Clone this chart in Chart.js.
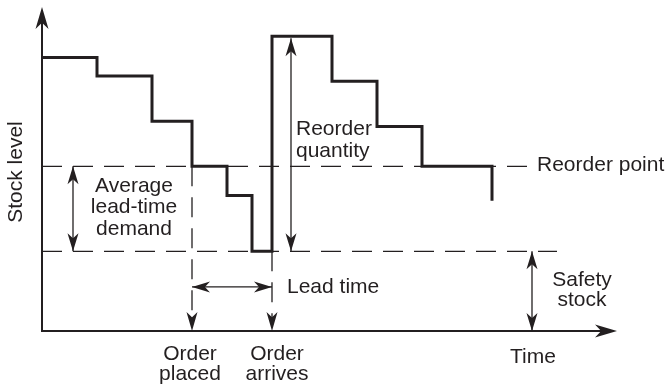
<!DOCTYPE html>
<html>
<head>
<meta charset="utf-8">
<script src="https://cdn.jsdelivr.net/npm/chart.js@4"></script>
<style>
  html, body { margin: 0; padding: 0; background: #fff; }
  #wrap { width: 668px; height: 387px; }
</style>
</head>
<body>
<div id="wrap"><canvas id="stock-chart"></canvas></div>
<script>
// stock level over time (schematic units)
const timeX = [0, 11, 22, 30, 37, 42, 46, 58, 67, 76, 90];
const stockLevel = [103, 96, 79, 62, 51, 30, 111, 94, 77, 62, 49];
const reorderPoint = 62;
const safetyStock = 30;
const orderPlacedX = 30;
const orderArrivesX = 46;
const reorderQty = 111;
const timeMax = 115;
const stockMax = 122;

const ink = '#231f20';
const font = '21px "Liberation Sans", Arial, sans-serif';

// arrowhead with a notched back, tip at (x, y) pointing along angle
function arrowHead(ctx, x, y, angle, len, half) {
  ctx.save();
  ctx.translate(x, y);
  ctx.rotate(angle);
  ctx.beginPath();
  ctx.moveTo(0, 0);
  ctx.lineTo(-len, -half);
  ctx.lineTo(-len * 0.72, 0);
  ctx.lineTo(-len, half);
  ctx.closePath();
  ctx.fillStyle = ink;
  ctx.fill();
  ctx.restore();
}

function arrowLine(ctx, x1, y1, x2, y2, both, len, half) {
  ctx.save();
  ctx.strokeStyle = ink;
  ctx.lineWidth = 1.3;
  ctx.beginPath();
  ctx.moveTo(x1, y1);
  ctx.lineTo(x2, y2);
  ctx.stroke();
  ctx.restore();
  const a = Math.atan2(y2 - y1, x2 - x1);
  arrowHead(ctx, x2, y2, a, len, half);
  if (both) arrowHead(ctx, x1, y1, a + Math.PI, len, half);
}

const diagramPlugin = {
  id: 'diagram',
  afterDatasetsDraw(chart) {
    const ctx = chart.ctx;
    const xs = chart.scales.x, ys = chart.scales.y;
    const px = v => xs.getPixelForValue(v);
    const py = v => ys.getPixelForValue(v);

    // axes
    ctx.save();
    ctx.strokeStyle = ink;
    ctx.lineWidth = 2;
    ctx.beginPath();
    ctx.moveTo(px(0), py(stockMax) + 10);
    ctx.lineTo(px(0), py(0));
    ctx.lineTo(px(timeMax) - 10, py(0));
    ctx.stroke();
    ctx.restore();
    arrowHead(ctx, px(0), py(stockMax), -Math.PI / 2, 22, 6.5);
    arrowHead(ctx, px(timeMax), py(0), 0, 22, 6.5);

    // arrows on the dashed event lines
    arrowHead(ctx, px(orderPlacedX), py(0), Math.PI / 2, 19, 5.5);
    arrowHead(ctx, px(orderArrivesX), py(0), Math.PI / 2, 19, 5.5);

    // double arrows
    arrowLine(ctx, px(6.2), py(reorderPoint), px(6.2), py(safetyStock), true, 18, 5.5);
    arrowLine(ctx, px(49.8), py(reorderQty) + 2, px(49.8), py(safetyStock), true, 18, 5.5);
    arrowLine(ctx, px(orderPlacedX), py(16.6), px(orderArrivesX), py(16.6), true, 18, 5.5);
    arrowLine(ctx, px(98), py(safetyStock), px(98), py(0), true, 18, 5.5);

    // labels
    ctx.save();
    ctx.fillStyle = ink;
    ctx.font = font;
    ctx.textBaseline = 'alphabetic';
    const txt = (s, x, y, align) => { ctx.textAlign = align; ctx.fillText(s, x, y); };
    txt('Average', 134, 191.5, 'center');
    txt('lead-time', 134, 213, 'center');
    txt('demand', 134, 234.5, 'center');
    txt('Reorder', 296, 135, 'left');
    txt('quantity', 296, 156.5, 'left');
    txt('Reorder point', 537, 170.5, 'left');
    txt('Lead time', 287, 293, 'left');
    txt('Safety', 582, 286, 'center');
    txt('stock', 582, 306, 'center');
    txt('Time', 533, 362.5, 'center');
    txt('Order', 190, 360, 'center');
    txt('placed', 190, 380, 'center');
    txt('Order', 277, 360, 'center');
    txt('arrives', 277, 380, 'center');
    ctx.translate(21.5, 172);
    ctx.rotate(-Math.PI / 2);
    txt('Stock level', 0, 0, 'center');
    ctx.restore();
  }
};

const dashed = {
  borderColor: ink,
  borderWidth: 1.3,
  borderDash: [20, 11],
  pointRadius: 0,
  clip: false
};

new Chart(document.getElementById('stock-chart'), {
  type: 'line',
  data: {
    datasets: [
      {
        label: 'Stock level',
        data: timeX.map((t, i) => ({ x: t, y: stockLevel[i] })),
        stepped: true,
        borderColor: ink,
        borderWidth: 3,
        pointRadius: 0,
        clip: false
      },
      Object.assign({ label: 'Reorder point', data: [{ x: 0, y: reorderPoint }, { x: 97, y: reorderPoint }] }, dashed),
      Object.assign({ label: 'Safety stock', data: [{ x: 0, y: safetyStock }, { x: 103, y: safetyStock }] }, dashed),
      Object.assign({ label: 'Order placed', data: [{ x: orderPlacedX, y: reorderPoint }, { x: orderPlacedX, y: 4 }] }, dashed),
      Object.assign({ label: 'Order arrives', data: [{ x: orderArrivesX, y: safetyStock }, { x: orderArrivesX, y: 4 }] }, dashed)
    ]
  },
  options: {
    responsive: true,
    maintainAspectRatio: false,
    animation: false,
    events: [],
    layout: { padding: { left: 42, top: 7, right: 51, bottom: 56 } },
    plugins: {
      legend: { display: false },
      tooltip: { enabled: false }
    },
    scales: {
      x: { type: 'linear', display: false, min: 0, max: timeMax },
      y: { type: 'linear', display: false, min: 0, max: stockMax }
    }
  },
  plugins: [diagramPlugin]
});
</script>
</body>
</html>
